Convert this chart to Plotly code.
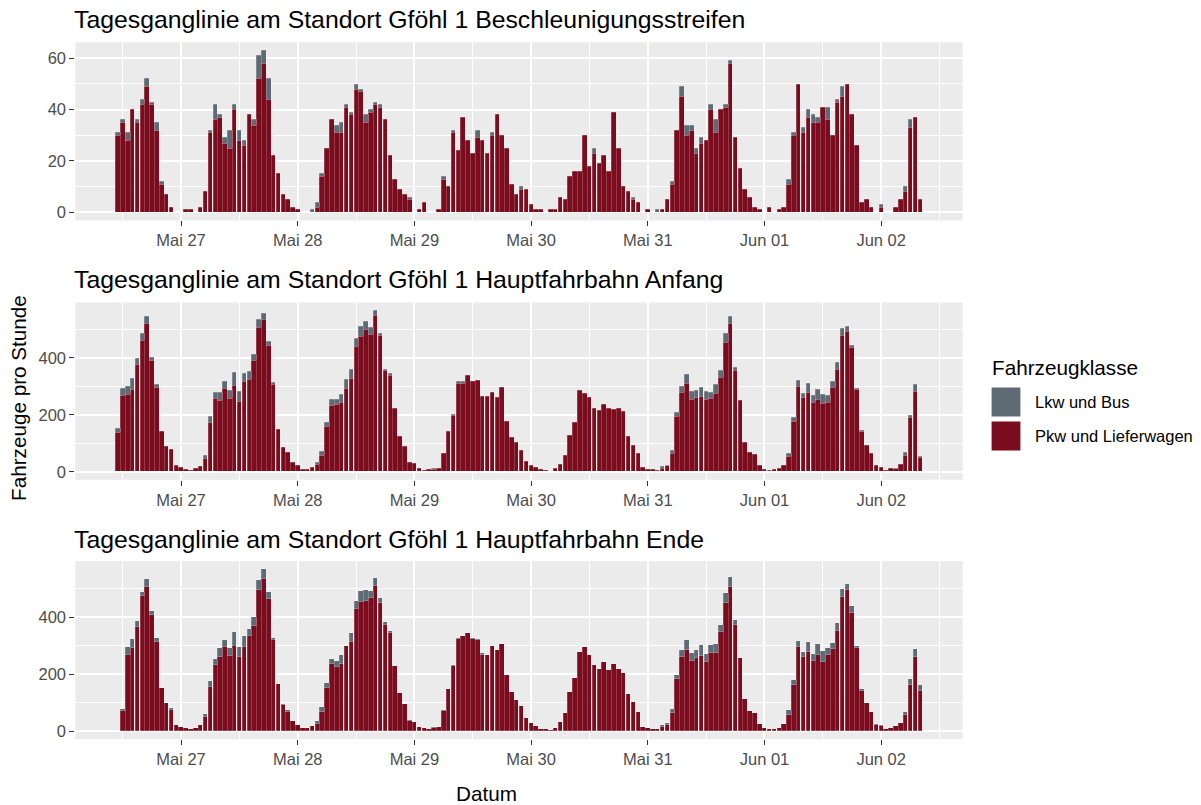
import pandas as pd
import plotly.graph_objects as go

# Hourly counts, Mai 26 11:00 to Jun 02 08:00 (166 hours)
beschl_pkw = [
    30, 35, 28, 40, 35, 42, 49, 42, 32, 11, 7, 2, 0,
    0, 1, 1, 0, 2, 8, 31, 36, 37, 27, 25, 40, 28, 26, 38, 34, 52, 58, 44, 22, 15, 7, 5, 2,
    1, 0, 0, 0, 2, 14, 25, 36, 31, 31, 41, 38, 48, 47, 35, 39, 42, 41, 36, 22, 13, 9, 7, 5,
    0, 1, 4, 0, 0, 1, 13, 10, 31, 24, 37, 28, 23, 29, 28, 23, 30, 38, 30, 25, 11, 7, 9, 9,
    3, 1, 1, 0, 1, 1, 6, 5, 14, 16, 16, 30, 18, 23, 19, 22, 16, 39, 25, 10, 8, 5, 4, 0,
    1, 0, 0, 1, 5, 11, 32, 45, 30, 32, 23, 27, 28, 40, 31, 40, 41, 58, 29, 17, 9, 6, 2, 1,
    0, 2, 0, 1, 2, 11, 30, 50, 31, 37, 35, 35, 41, 36, 30, 43, 45, 50, 38, 26, 4, 5, 2, 0,
    2, 0, 0, 2, 5, 8, 33, 37, 5,
]
beschl_lkw = [
    1, 1, 3, 0, 1, 2, 3, 1, 3, 1, 0, 0, 0,
    0, 0, 0, 0, 0, 0, 1, 6, 1, 2, 7, 2, 4, 2, 0, 2, 9, 5, 8, 0, 0, 0, 0, 0,
    0, 0, 0, 1, 2, 1, 0, 0, 3, 4, 1, 1, 2, 1, 3, 1, 1, 1, 0, 0, 0, 0, 0, 1,
    0, 0, 0, 0, 0, 0, 1, 0, 1, 0, 0, 0, 0, 3, 0, 0, 1, 0, 0, 0, 0, 0, 1, 0,
    0, 0, 0, 0, 0, 0, 0, 0, 0, 0, 0, 0, 0, 2, 0, 0, 0, 0, 0, 0, 0, 1, 0, 0,
    0, 0, 1, 0, 0, 1, 0, 4, 4, 2, 2, 2, 0, 2, 5, 0, 1, 1, 0, 0, 0, 0, 0, 0,
    0, 0, 0, 0, 0, 2, 1, 0, 2, 3, 3, 2, 0, 5, 0, 1, 4, 0, 0, 0, 0, 0, 0, 0,
    1, 0, 0, 0, 0, 2, 3, 0, 0,
]

anfang_pkw = [
    137, 270, 273, 290, 379, 463, 522, 393, 298, 143, 90, 77, 21,
    14, 9, 5, 10, 19, 48, 175, 259, 250, 292, 258, 305, 249, 318, 324, 390, 508, 536, 444, 308, 150, 87, 67, 34,
    22, 9, 9, 14, 26, 57, 161, 233, 238, 244, 294, 327, 442, 475, 501, 484, 549, 478, 355, 340, 222, 124, 90, 32,
    29, 11, 5, 8, 8, 11, 63, 141, 197, 311, 311, 338, 317, 321, 266, 264, 279, 263, 298, 177, 121, 103, 75, 38,
    23, 15, 7, 6, 2, 12, 26, 56, 128, 172, 286, 274, 260, 224, 216, 238, 223, 218, 222, 212, 124, 93, 63, 15,
    8, 8, 5, 13, 22, 64, 193, 278, 312, 253, 260, 266, 253, 259, 277, 333, 454, 522, 355, 251, 103, 68, 61, 22,
    9, 5, 8, 11, 23, 54, 177, 301, 263, 279, 245, 256, 240, 244, 295, 359, 478, 492, 436, 290, 141, 93, 63, 22,
    15, 5, 11, 11, 26, 57, 191, 281, 52,
]
anfang_lkw = [
    17, 23, 28, 38, 20, 25, 24, 10, 10, 0, 0, 0, 0,
    0, 0, 0, 0, 0, 9, 20, 20, 30, 27, 29, 45, 35, 29, 28, 24, 29, 20, 14, 7, 0, 0, 0, 0,
    0, 0, 0, 0, 7, 16, 12, 21, 18, 28, 31, 33, 28, 36, 28, 22, 18, 9, 6, 6, 0, 0, 0, 0,
    0, 0, 0, 0, 4, 0, 0, 0, 6, 8, 7, 0, 0, 0, 0, 0, 0, 0, 0, 0, 0, 0, 0, 0,
    0, 0, 0, 0, 0, 0, 0, 0, 0, 0, 0, 0, 0, 0, 0, 0, 0, 0, 0, 0, 0, 0, 0, 0,
    0, 0, 0, 6, 2, 10, 16, 22, 30, 31, 27, 31, 30, 21, 29, 25, 31, 25, 13, 0, 0, 0, 0, 0,
    0, 0, 0, 0, 0, 10, 15, 20, 14, 30, 22, 34, 32, 26, 23, 26, 25, 20, 8, 2, 4, 0, 0, 0,
    0, 0, 0, 2, 0, 11, 8, 27, 3,
]

ende_pkw = [
    0, 70, 267, 290, 365, 475, 505, 408, 313, 150, 97, 75, 21,
    15, 9, 5, 12, 21, 48, 156, 232, 261, 294, 264, 299, 261, 294, 335, 368, 495, 535, 464, 321, 165, 91, 67, 35,
    21, 9, 9, 16, 26, 67, 152, 234, 224, 237, 298, 312, 428, 454, 458, 469, 509, 451, 374, 346, 229, 134, 93, 34,
    30, 13, 9, 7, 12, 13, 70, 149, 229, 322, 332, 346, 322, 319, 268, 266, 298, 285, 307, 197, 136, 108, 88, 47,
    28, 18, 7, 7, 2, 12, 30, 62, 137, 186, 277, 294, 266, 231, 217, 244, 215, 237, 217, 203, 129, 101, 67, 15,
    9, 7, 6, 15, 22, 63, 182, 261, 283, 245, 256, 265, 244, 273, 273, 348, 451, 506, 374, 256, 113, 70, 62, 25,
    9, 5, 8, 12, 25, 56, 163, 295, 259, 277, 247, 268, 244, 267, 287, 352, 471, 494, 413, 293, 142, 98, 66, 22,
    18, 6, 12, 16, 28, 56, 162, 261, 142,
]
ende_lkw = [
    0, 6, 27, 32, 23, 15, 30, 12, 12, 0, 0, 4, 0,
    0, 0, 0, 0, 0, 11, 18, 21, 31, 24, 28, 48, 33, 39, 24, 32, 37, 34, 23, 7, 0, 4, 5, 0,
    0, 0, 0, 0, 10, 17, 17, 19, 22, 30, 2, 34, 28, 37, 37, 23, 29, 17, 9, 6, 0, 0, 0, 4,
    0, 0, 0, 0, 2, 0, 5, 0, 3, 5, 2, 0, 4, 3, 5, 0, 0, 0, 0, 0, 0, 0, 0, 0,
    0, 0, 0, 0, 0, 0, 0, 0, 0, 0, 0, 0, 0, 0, 0, 0, 0, 0, 0, 0, 0, 0, 0, 0,
    0, 0, 0, 5, 5, 14, 15, 22, 36, 30, 28, 36, 28, 28, 34, 26, 33, 34, 15, 0, 0, 0, 0, 0,
    0, 0, 0, 0, 0, 16, 16, 22, 19, 36, 23, 37, 36, 24, 22, 28, 28, 24, 27, 6, 6, 0, 0, 3,
    2, 0, 0, 0, 0, 12, 21, 26, 20,
]

panel_titles = [
    "Tagesganglinie am Standort Gföhl 1 Beschleunigungsstreifen",
    "Tagesganglinie am Standort Gföhl 1 Hauptfahrbahn Anfang",
    "Tagesganglinie am Standort Gföhl 1 Hauptfahrbahn Ende",
]
class_names = ["Lkw und Bus", "Pkw und Lieferwagen"]
tick_labels = ["Mai 27", "Mai 28", "Mai 29", "Mai 30", "Mai 31", "Jun 01", "Jun 02"]
y_ticks = [[0, 20, 40, 60], [0, 200, 400], [0, 200, 400]]
y_minor = [[10, 30, 50], [100, 300, 500], [100, 300, 500]]

stunden = pd.date_range("2021-05-26 11:00", periods=len(beschl_pkw), freq="h")
tick_dates = pd.date_range("2021-05-27", periods=len(tick_labels), freq="D")
noon_dates = pd.date_range("2021-05-26 12:00", periods=len(tick_labels) + 1, freq="D")

COL_PKW = "#7b0c1e"
COL_LKW = "#5e6b75"
PANEL_BG = "#ebebeb"
FONT = "Liberation Sans, Arial, sans-serif"
W, H = 1201, 805

# x range: bar extents plus 5 % expansion on either side
hour = pd.Timedelta(hours=1)
x_lo = stunden[0] - 0.45 * hour
x_hi = stunden[-1] + 0.45 * hour
pad = (x_hi - x_lo) * 0.05
x_range = [x_lo - pad, x_hi + pad]

# panel frames in pixels: (top, bottom)
frames = [(42.3, 220.4), (302.4, 479.8), (561.1, 739.1)]
x_px = (75.3, 962.6)

series = [
    (beschl_pkw, beschl_lkw),
    (anfang_pkw, anfang_lkw),
    (ende_pkw, ende_lkw),
]


def drop_zero(vals):
    return [v if v else None for v in vals]


fig = go.Figure()
layout = {}
for i, ((pkw, lkw), (top, bot)) in enumerate(zip(series, frames)):
    sfx = "" if i == 0 else str(i + 1)
    xa, ya = "x" + sfx, "y" + sfx
    for vals, name, col in [(pkw, class_names[1], COL_PKW), (lkw, class_names[0], COL_LKW)]:
        fig.add_trace(go.Bar(
            x=stunden, y=drop_zero(vals), name=name, xaxis=xa, yaxis=ya,
            marker=dict(color=col, line=dict(color="rgba(255,255,255,0.4)", width=0.5)),
            width=0.93 * 3600 * 1000, showlegend=False,
        ))
    ymax = max(p + l for p, l in zip(pkw, lkw))
    layout["xaxis" + sfx] = dict(
        domain=[x_px[0] / W, x_px[1] / W], anchor=ya, type="date", range=x_range,
        tickmode="array", tickvals=list(tick_dates), ticktext=tick_labels,
        ticks="outside", ticklen=5, tickwidth=1.3, tickcolor="#333333",
        tickfont=dict(size=16.5, color="#4d4d4d", family=FONT),
        showgrid=True, gridcolor="white", gridwidth=2,
        minor=dict(tickvals=list(noon_dates), showgrid=True, gridcolor="white", gridwidth=1, ticks=""),
        showline=False, zeroline=False, fixedrange=True,
    )
    layout["yaxis" + sfx] = dict(
        domain=[1 - bot / H, 1 - top / H], anchor=xa, range=[-0.05 * ymax, 1.05 * ymax],
        tickmode="array", tickvals=y_ticks[i],
        ticks="outside", ticklen=5, tickwidth=1.3, tickcolor="#333333",
        tickfont=dict(size=16.5, color="#4d4d4d", family=FONT),
        showgrid=True, gridcolor="white", gridwidth=2,
        minor=dict(tickvals=y_minor[i], showgrid=True, gridcolor="white", gridwidth=1, ticks=""),
        showline=False, zeroline=False, fixedrange=True,
    )

annotations = []
for title, y_px in zip(panel_titles, [19, 279, 539]):
    annotations.append(dict(
        text=title, x=72 / W, y=1 - y_px / H, xref="paper", yref="paper",
        xanchor="left", yanchor="middle", showarrow=False,
        font=dict(size=24.8, color="black", family=FONT),
    ))
annotations.append(dict(
    text="Fahrzeuge pro Stunde", x=18 / W, y=1 - 398 / H, xref="paper", yref="paper",
    textangle=-90, xanchor="center", yanchor="middle", showarrow=False,
    font=dict(size=20.7, color="black", family=FONT),
))
annotations.append(dict(
    text="Datum", x=486 / W, y=1 - 793 / H, xref="paper", yref="paper",
    xanchor="center", yanchor="middle", showarrow=False,
    font=dict(size=20.7, color="black", family=FONT),
))

# legend drawn by hand so the keys get ggplot-sized squares
annotations.append(dict(
    text="Fahrzeugklasse", x=990 / W, y=1 - 368 / H, xref="paper", yref="paper",
    xanchor="left", yanchor="middle", showarrow=False,
    font=dict(size=20.7, color="black", family=FONT),
))
shapes = []
for name, col, yc in [(class_names[0], COL_LKW, 402), (class_names[1], COL_PKW, 436)]:
    shapes.append(dict(
        type="rect", xref="paper", yref="paper",
        x0=991 / W, x1=1021 / W, y0=1 - (yc + 15) / H, y1=1 - (yc - 15) / H,
        fillcolor=col, line=dict(color="white", width=1.2),
    ))
    annotations.append(dict(
        text=name, x=1033 / W, y=1 - yc / H, xref="paper", yref="paper",
        xanchor="left", yanchor="middle", showarrow=False,
        font=dict(size=16.5, color="black", family=FONT),
    ))

fig.update_layout(
    width=W, height=H, margin=dict(l=0, r=0, t=0, b=0),
    paper_bgcolor="white", plot_bgcolor=PANEL_BG,
    barmode="stack", bargap=0, showlegend=False,
    annotations=annotations, shapes=shapes,
    font=dict(family=FONT),
    **layout,
)

fig.write_html("out.html")
